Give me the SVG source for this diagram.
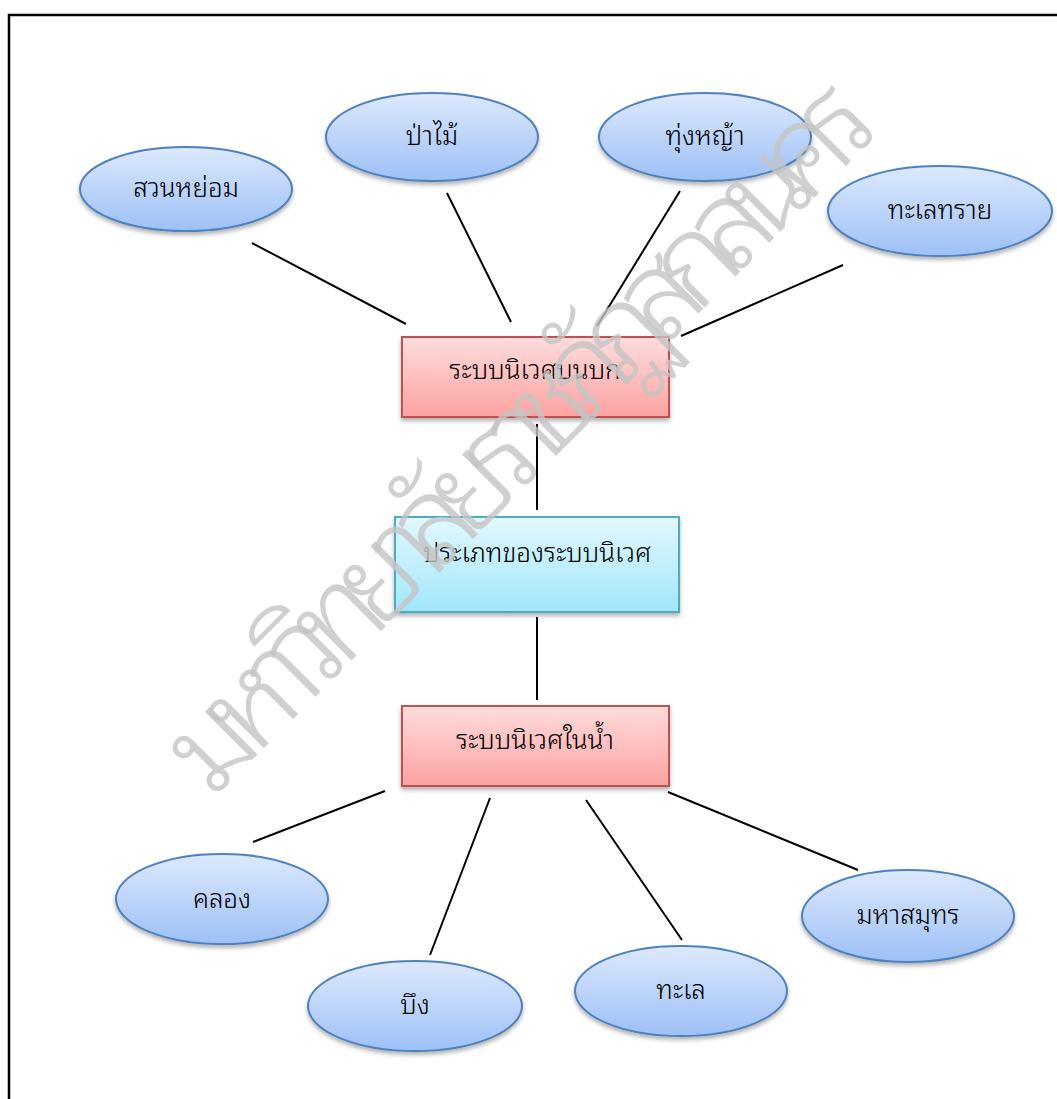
<svg xmlns="http://www.w3.org/2000/svg" width="1057" height="1099" viewBox="0 0 1057 1099">
<style>
.el{fill:url(#gBlue);stroke:#4f81bd;stroke-width:2;filter:url(#sh)}
.rr{fill:url(#gRed);stroke:#c0504d;stroke-width:2;filter:url(#sh)}
.rc{fill:url(#gCyan);stroke:#4bacc6;stroke-width:2;filter:url(#sh)}
.t{font-family:"Noto Sans Thai Looped","Noto Serif Thai","Tlwg Typo","Loma","Garuda","Norasi","Noto Sans Thai","Noto Sans",sans-serif;font-size:26px;font-weight:300;fill:#000;text-anchor:middle;dominant-baseline:middle}
.ln{stroke:#000;stroke-width:2;fill:none}
.wm{font-family:"Noto Sans Thai Looped","Noto Serif Thai","Loma","Garuda","Noto Sans Thai","Noto Sans",sans-serif;font-size:122px;font-weight:300;fill:#c4c4c4;fill-opacity:0.8}
</style>
<defs>
<linearGradient id="gBlue" x1="0" y1="0" x2="0" y2="1"><stop offset="0" stop-color="#dde9fd"/><stop offset="1" stop-color="#9dc0f6"/></linearGradient>
<linearGradient id="gRed" x1="0" y1="0" x2="0" y2="1"><stop offset="0" stop-color="#ffdcdc"/><stop offset="1" stop-color="#fda2a2"/></linearGradient>
<linearGradient id="gCyan" x1="0" y1="0" x2="0" y2="1"><stop offset="0" stop-color="#e3f8fe"/><stop offset="1" stop-color="#a2e6fa"/></linearGradient>
<filter id="sh" x="-10%" y="-10%" width="120%" height="130%"><feDropShadow dx="0" dy="3" stdDeviation="2" flood-color="#000" flood-opacity="0.3"/></filter>
</defs>
<rect width="1057" height="1099" fill="#fff"/>
<path d="M9 1099 V15 H1057" fill="none" stroke="#000" stroke-width="2.5"/>
<g id="connectors">
<line class="ln" x1="252" y1="243" x2="406" y2="324"/>
<line class="ln" x1="447" y1="193" x2="511" y2="322"/>
<line class="ln" x1="680" y1="191" x2="597" y2="326"/>
<line class="ln" x1="843" y1="265" x2="681" y2="336"/>
<line class="ln" x1="537" y1="424" x2="537" y2="510"/>
<line class="ln" x1="537" y1="617" x2="537" y2="700"/>
<line class="ln" x1="385" y1="791" x2="253" y2="842"/>
<line class="ln" x1="490" y1="798" x2="430" y2="955"/>
<line class="ln" x1="586" y1="800" x2="682" y2="940"/>
<line class="ln" x1="668" y1="792" x2="858" y2="870"/>
</g>
<g id="n-suan"><ellipse class="el" cx="186" cy="189" rx="106" ry="42"/><text class="t" x="186" y="190">สวนหย่อม</text></g>
<g id="n-pamai"><ellipse class="el" cx="432" cy="137" rx="106" ry="44"/><text class="t" x="432" y="138">ป่าไม้</text></g>
<g id="n-thung"><ellipse class="el" cx="705" cy="137" rx="106" ry="44"/><text class="t" x="705" y="138">ทุ่งหญ้า</text></g>
<g id="n-thalesai"><ellipse class="el" cx="940" cy="211" rx="112" ry="45"/><text class="t" x="940" y="212">ทะเลทราย</text></g>
<g id="n-land"><rect class="rr" x="402" y="337" width="267" height="80"/><text class="t" x="535" y="372">ระบบนิเวศบนบก</text></g>
<g id="n-type"><rect class="rc" x="395" y="517" width="284" height="95"/><text class="t" x="537" y="555">ประเภทของระบบนิเวศ</text></g>
<g id="n-water"><rect class="rr" x="402" y="706" width="267" height="80"/><text class="t" x="535" y="742">ระบบนิเวศในน้ำ</text></g>
<g id="n-khlong"><ellipse class="el" cx="222" cy="899" rx="106" ry="45"/><text class="t" x="222" y="901">คลอง</text></g>
<g id="n-bueng"><ellipse class="el" cx="415" cy="1006" rx="107" ry="45"/><text class="t" x="415" y="1007">บึง</text></g>
<g id="n-thale"><ellipse class="el" cx="681" cy="991" rx="106" ry="45"/><text class="t" x="681" y="992">ทะเล</text></g>
<g id="n-maha"><ellipse class="el" cx="908" cy="916" rx="106" ry="46"/><text class="t" x="908" y="917">มหาสมุทร</text></g>
<text class="wm" transform="translate(212,800) rotate(-45)" x="0" y="0" textLength="950" lengthAdjust="spacing">มหาวิทยาลัยราชภัฏสกลนคร</text>
</svg>
